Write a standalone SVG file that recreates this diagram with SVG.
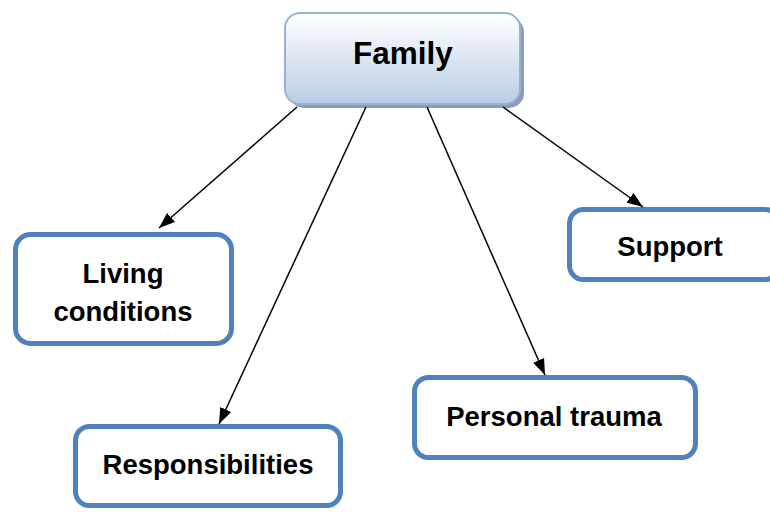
<svg xmlns="http://www.w3.org/2000/svg" width="770" height="512" viewBox="0 0 770 512">
<defs>
<linearGradient id="g" x1="0" y1="0" x2="0" y2="1">
<stop offset="0" stop-color="#ffffff"/>
<stop offset="1" stop-color="#b9cde5"/>
</linearGradient>
<marker id="ah" viewBox="0 0 16 12" refX="16" refY="6" markerWidth="16" markerHeight="12" markerUnits="userSpaceOnUse" orient="auto">
<path d="M0,0 L16,6 L0,12 Z" fill="#000"/>
</marker>
</defs>
<style>
.box{fill:#fff;stroke:#4f81bd;stroke-width:5}
.t{font-family:"Liberation Sans",Arial,sans-serif;font-weight:bold;font-size:27.5px;fill:#000;text-anchor:middle}
.c{stroke:#000;stroke-width:1.5;fill:none;marker-end:url(#ah)}
</style>
<rect width="770" height="512" fill="#fff"/>
<g id="family">
<rect x="289" y="17" width="235" height="91" rx="15" fill="#8c9db3"/>
<rect x="285" y="13" width="235" height="91" rx="15" fill="url(#g)" stroke="#95b3d7" stroke-width="2"/>
<text class="t" x="403" y="64" style="font-size:31.5px">Family</text>
</g>
<g id="living">
<rect class="box" x="15.5" y="234.5" width="216" height="109" rx="15"/>
<text class="t" x="123" y="283">Living</text>
<text class="t" x="123" y="321">conditions</text>
</g>
<g id="responsibilities">
<rect class="box" x="75.5" y="426.5" width="265" height="79" rx="14"/>
<text class="t" x="208" y="474">Responsibilities</text>
</g>
<g id="trauma">
<rect class="box" x="414.5" y="377.5" width="281" height="80" rx="14"/>
<text class="t" x="554" y="426">Personal trauma</text>
</g>
<g id="support">
<rect class="box" x="569.5" y="209.5" width="210" height="70" rx="14"/>
<text class="t" x="670" y="256">Support</text>
</g>
<g id="connectors">
<line class="c" x1="297" y1="107" x2="159" y2="228"/>
<line class="c" x1="366" y1="107" x2="219" y2="424"/>
<line class="c" x1="427" y1="107" x2="545" y2="375"/>
<line class="c" x1="503" y1="107" x2="643" y2="207"/>
</g>
</svg>
